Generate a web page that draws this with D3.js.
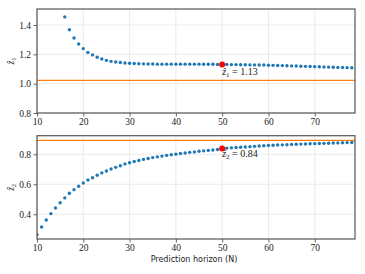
<!DOCTYPE html>
<html>
<head>
<meta charset="utf-8">
<script src="https://cdn.jsdelivr.net/npm/d3@7"></script>
<style>
  body { margin: 0; background: #fff; }
  svg text.serif { font-family: "Liberation Serif", "Times New Roman", serif; }
  svg text.sans { font-family: "DejaVu Sans", sans-serif; }
</style>
</head>
<body>
<div id="chart"></div>
<script>
// 数据
const topN = d3.range(16, 80);
const topZ = [1.455, 1.368, 1.311, 1.270, 1.239, 1.213, 1.196, 1.180, 1.168, 1.159,
  1.152, 1.148, 1.144, 1.141, 1.139, 1.137, 1.136, 1.135, 1.134, 1.134,
  1.133, 1.133, 1.133, 1.133, 1.133, 1.133, 1.133, 1.133, 1.133, 1.133,
  1.132, 1.132, 1.132, 1.131, 1.131, 1.131, 1.130, 1.130, 1.129, 1.129,
  1.128, 1.128, 1.127, 1.127, 1.126, 1.125, 1.124, 1.123, 1.122, 1.121,
  1.120, 1.119, 1.118, 1.117, 1.116, 1.115, 1.114, 1.113, 1.112, 1.111,
  1.110, 1.109, 1.108, 1.107];
const botN = d3.range(10, 80);
const botZ = [0.264, 0.315, 0.362, 0.404, 0.442, 0.477, 0.509, 0.540, 0.564, 0.587,
  0.609, 0.629, 0.644, 0.660, 0.676, 0.689, 0.702, 0.713, 0.724, 0.736,
  0.744, 0.752, 0.759, 0.766, 0.772, 0.778, 0.783, 0.788, 0.793, 0.797,
  0.801, 0.805, 0.809, 0.813, 0.816, 0.820, 0.823, 0.826, 0.829, 0.832,
  0.838, 0.841, 0.843, 0.845, 0.847, 0.849, 0.851, 0.853, 0.855, 0.857,
  0.859, 0.860, 0.862, 0.863, 0.864, 0.866, 0.867, 0.868, 0.869, 0.870,
  0.871, 0.872, 0.873, 0.874, 0.875, 0.876, 0.877, 0.878, 0.879, 0.880];
const xTicks = [10, 20, 30, 40, 50, 60, 70];
const topTicks = [0.8, 1.0, 1.2, 1.4];
const botTicks = [0.4, 0.6, 0.8];
const topRef = 1.022;
const botRef = 0.893;
const markN = 50;
const topMark = 1.131, topLabel = '1.13';
const botMark = 0.838, botLabel = '0.84';

const W = 365, H = 274;
const left = 37, right = 355;

const svg = d3.select('#chart').append('svg').attr('width', W).attr('height', H);

const x = d3.scaleLinear().domain([10, 78.7]).range([left, right]);

function panel(cfg) {
    const y = d3.scaleLinear().domain(cfg.domain).range([cfg.bottom, cfg.top]);
    const g = svg.append('g');
    const clipId = 'clip' + cfg.sub;
    svg.append('clipPath').attr('id', clipId).append('rect')
        .attr('x', left).attr('y', cfg.top).attr('width', right - left).attr('height', cfg.bottom - cfg.top);

    // 网格
    g.append('g').selectAll('line').data(xTicks).join('line')
        .attr('x1', d => x(d)).attr('x2', d => x(d))
        .attr('y1', cfg.top).attr('y2', cfg.bottom)
        .attr('stroke', '#e6e6e6').attr('stroke-width', 0.8);
    g.append('g').selectAll('line').data(cfg.ticks).join('line')
        .attr('x1', left).attr('x2', right)
        .attr('y1', d => y(d)).attr('y2', d => y(d))
        .attr('stroke', '#e6e6e6').attr('stroke-width', 0.8);

    const plot = g.append('g').attr('clip-path', `url(#${clipId})`);
    plot.append('line')
        .attr('x1', left).attr('x2', right)
        .attr('y1', y(cfg.ref)).attr('y2', y(cfg.ref))
        .attr('stroke', '#ff7f0e').attr('stroke-width', 1.3);
    plot.selectAll('circle.pt').data(cfg.n).join('circle').attr('class', 'pt')
        .attr('cx', d => x(d)).attr('cy', (d, i) => y(cfg.z[i]))
        .attr('r', 1.7).attr('fill', '#1f77b4');
    plot.append('circle').attr('cx', x(markN)).attr('cy', y(cfg.mark))
        .attr('r', 3).attr('fill', '#ff0000');

    // 标注
    const t = g.append('text').attr('class', 'serif')
        .attr('x', x(markN)).attr('y', y(cfg.mark) + cfg.labelDy)
        .attr('font-size', 10).attr('fill', '#222');
    t.append('tspan').attr('font-style', 'italic').text('ẑ');
    t.append('tspan').attr('font-size', 7).attr('dy', 2).text(cfg.sub);
    t.append('tspan').attr('dy', -2).text(' = ' + cfg.label);

    // 坐标轴
    const ax = g.append('g').attr('transform', `translate(0,${cfg.bottom})`)
        .call(d3.axisBottom(x).tickValues(xTicks).tickSize(3.5).tickPadding(2).tickFormat(d3.format('d')));
    const ay = g.append('g').attr('transform', `translate(${left},0)`)
        .call(d3.axisLeft(y).tickValues(cfg.ticks).tickSize(3.5).tickPadding(2.5).tickFormat(d3.format('.1f')));
    [ax, ay].forEach(a => {
        a.select('.domain').remove();
        a.attr('font-family', null);
        a.selectAll('.tick line').attr('stroke', '#555').attr('stroke-width', 0.9);
        a.selectAll('.tick text').attr('class', 'serif').attr('font-size', 9.5).attr('fill', '#222');
    });

    g.append('rect').attr('x', left).attr('y', cfg.top)
        .attr('width', right - left).attr('height', cfg.bottom - cfg.top)
        .attr('fill', 'none').attr('stroke', '#555').attr('stroke-width', 1.2);

    // y轴标签
    const yl = g.append('text').attr('class', 'serif')
        .attr('transform', `translate(14,${(cfg.top + cfg.bottom) / 2}) rotate(-90)`)
        .attr('text-anchor', 'middle').attr('font-size', 9.5).attr('fill', '#222');
    yl.append('tspan').attr('font-style', 'italic').text('ẑ');
    yl.append('tspan').attr('font-size', 6.5).attr('dy', 2).text(cfg.sub);
}

panel({ top: 9, bottom: 113, domain: [0.8, 1.509], ticks: topTicks, n: topN, z: topZ,
    ref: topRef, mark: topMark, label: topLabel, sub: '1', labelDy: 11 });
panel({ top: 135.7, bottom: 239, domain: [0.235, 0.924], ticks: botTicks, n: botN, z: botZ,
    ref: botRef, mark: botMark, label: botLabel, sub: '2', labelDy: 8 });

svg.append('text').attr('class', 'sans').attr('x', 194).attr('y', 262)
    .attr('text-anchor', 'middle').attr('font-size', 8).attr('fill', '#222')
    .text('Prediction horizon (N)');
</script>
</body>
</html>
